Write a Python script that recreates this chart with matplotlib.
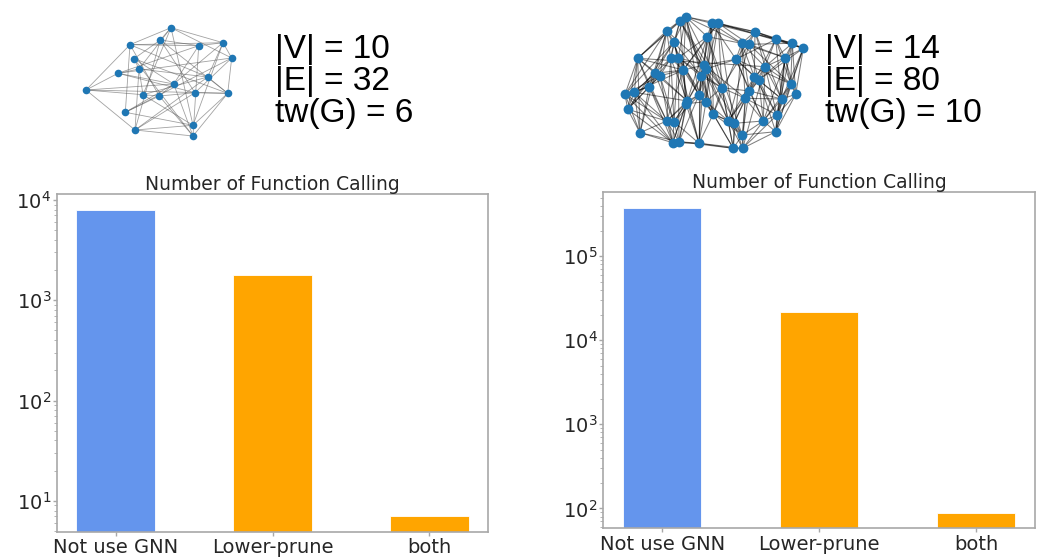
import matplotlib
matplotlib.use("Agg")
import matplotlib.pyplot as plt
import numpy as np
from matplotlib.collections import LineCollection

# ---------------- data ----------------
categories = ["Not use GNN", "Lower-prune", "both"]
left_values = [8000, 1800, 7]
right_values = [380000, 22000, 88]
bar_colors = ["cornflowerblue", "orange", "orange"]
chart_title = "Number of Function Calling"

left_info = ["|V| = 10", "|E| = 32", "tw(G) = 6"]
right_info = ["|V| = 14", "|E| = 80", "tw(G) = 10"]

# graph layouts (drawing coordinates)
left_nodes_x = [171, 130, 160.3, 198.7, 223, 231.7, 134, 139, 118, 207.7,
                173.7, 86, 143, 159.3, 195, 227.7, 125.3, 135, 193, 193]
left_nodes_y = [27.7, 44.7, 40, 45.7, 42.7, 58, 58.7, 69, 73.3, 77,
                84, 90, 94.7, 96, 92.7, 93.3, 112.3, 130, 125.3, 136]
left_edges = [(0, 1), (0, 2), (0, 4), (0, 5), (0, 12), (0, 18), (0, 7),
              (1, 11), (1, 3), (1, 4), (1, 9), (1, 13), (1, 16),
              (2, 3), (2, 6), (2, 14), (2, 17), (2, 15),
              (3, 4), (3, 8), (3, 10), (3, 19),
              (4, 5), (4, 9), (4, 18), (4, 13),
              (5, 8), (5, 15), (5, 14), (5, 16),
              (6, 7), (6, 10), (6, 15), (6, 19),
              (7, 8), (7, 9), (7, 17), (7, 12),
              (8, 11), (8, 14), (8, 10),
              (9, 12), (9, 15), (9, 17),
              (10, 11), (10, 16), (10, 19),
              (11, 12), (11, 17), (11, 15),
              (12, 13), (12, 18),
              (13, 14), (13, 19), (13, 16),
              (14, 17), (14, 15),
              (15, 18), (15, 19),
              (16, 18), (17, 18), (17, 19)]

right_nodes_x = [685.7, 680, 711.7, 718.3, 666.7, 755, 707.3, 775.7, 674, 741.7,
                 749, 792.3, 803.3, 637.7, 670.7, 678.3, 736, 785, 704.3, 706,
                 765, 683.3, 655, 660, 701, 754.3, 758.7, 721.7, 649.3, 790.7,
                 625, 634.3, 749.3, 699, 745.3, 795.7, 781.7, 687.3, 706, 686,
                 627.7, 713.3, 777, 666.7, 674, 728.3, 734, 763.3, 640, 775.7,
                 742.3, 672.7, 679, 699, 733.3, 742.7]
right_nodes_y = [16.7, 20.7, 23.3, 23.3, 30.7, 31.7, 36.7, 39.3, 41.7, 43.3,
                 44.3, 43.3, 48.3, 58.3, 58.3, 57.7, 59.3, 57.7, 65, 69,
                 66.7, 70, 73.3, 75.7, 76, 76.7, 80, 87.7, 86.7, 84,
                 94.3, 92.3, 91, 95, 98.3, 94.3, 99, 101, 101.7, 103.7,
                 109.3, 114, 115, 121, 121.7, 121, 123.3, 121, 132.7, 131.7,
                 135, 142.7, 141.7, 143.3, 148.3, 148.3]
right_adj = {
    0: [1, 2, 3, 6, 8, 15, 21, 9, 24, 33, 41, 13, 27],
    1: [4, 8, 13, 14, 18, 27, 39, 45],
    2: [3, 6, 9, 5, 16, 19, 24, 41, 11, 38],
    3: [6, 5, 10, 7, 19, 27, 38, 46, 12, 21],
    4: [8, 13, 14, 22, 23, 28, 33, 30, 18],
    5: [9, 10, 7, 11, 16, 20, 25, 12, 36],
    6: [9, 18, 15, 21, 33, 37, 27, 50],
    7: [11, 12, 17, 20, 29, 36, 16, 32],
    8: [14, 15, 22, 24, 30, 39, 40, 53],
    9: [10, 16, 20, 25, 32, 34, 17, 54],
    10: [11, 17, 26, 27, 45, 29],
    11: [12, 17, 29, 35, 42, 20, 47],
    12: [17, 35, 29, 36, 49, 26],
    13: [22, 28, 30, 31, 40, 23, 43, 20, 48, 21],
    14: [15, 21, 23, 31, 37, 44, 28, 43],
    15: [18, 21, 24, 27, 33, 38, 44, 52],
    16: [18, 19, 25, 26, 32, 41, 47, 29],
    17: [20, 26, 29, 36, 42, 35, 49],
    18: [19, 24, 27, 34, 38, 53, 21],
    19: [24, 33, 39, 45, 50, 41],
    20: [25, 26, 29, 32, 42, 47, 36, 55],
    21: [22, 23, 33, 37, 39, 43, 31],
    22: [23, 28, 31, 40, 48, 37, 44],
    23: [28, 30, 37, 44, 51, 40],
    24: [27, 33, 38, 41, 53, 39],
    25: [26, 32, 34, 36, 45, 42],
    26: [34, 36, 42, 47, 49, 32],
    27: [32, 34, 38, 41, 46, 45, 54],
    28: [31, 40, 43, 48, 30, 51],
    29: [35, 36, 42, 49, 47],
    30: [31, 40, 48, 43, 51],
    31: [40, 43, 37, 51, 48],
    32: [34, 45, 46, 47, 50, 36],
    33: [37, 38, 39, 41, 52, 53, 44],
    34: [45, 46, 47, 55, 42, 36, 50],
    35: [36, 42, 49],
    36: [42, 47, 49],
    37: [39, 43, 44, 52, 53, 51],
    38: [39, 41, 45, 54, 53],
    39: [43, 44, 51, 52, 53],
    40: [43, 48, 51],
    41: [45, 46, 53, 54, 50],
    42: [47, 49, 55],
    43: [44, 48, 51, 52],
    44: [51, 52, 53],
    45: [46, 50, 54, 55],
    46: [50, 54, 55, 47],
    47: [49, 50, 55],
    48: [51, 52],
    49: [55, 50],
    50: [54, 55],
    51: [52, 53],
    52: [53, 54],
    53: [54, 55],
    54: [55],
}
right_edges = [(i, j) for i, js in right_adj.items() for j in js]

# ---------------- figure ----------------
W, H = 1055, 558
fig = plt.figure(figsize=(W / 100, H / 100), dpi=100)

# graph drawings layer (pixel coordinates)
gax = fig.add_axes([0, 0, 1, 1])
gax.set_xlim(0, W)
gax.set_ylim(H, 0)
gax.axis("off")


def draw_graph(ax, xs, ys, edges, ecolor, ealpha, elw, nsize):
    segs = [[(xs[a], ys[a]), (xs[b], ys[b])] for a, b in edges]
    ax.add_collection(LineCollection(segs, colors=ecolor, alpha=ealpha,
                                     linewidths=elw, zorder=1))
    ax.scatter(xs, ys, s=nsize, color="#1f77b4", zorder=2, linewidths=0)


draw_graph(gax, left_nodes_x, left_nodes_y, left_edges, "#555555", 0.55, 0.6, 30)
draw_graph(gax, right_nodes_x, right_nodes_y, right_edges, "black", 0.5, 0.75, 50)

baselines = [58, 90, 122]
for txt, yb in zip(left_info, baselines):
    gax.text(275, yb, txt, fontsize=24, family="Liberation Sans",
             va="baseline", ha="left", color="black")
for txt, yb in zip(right_info, baselines):
    gax.text(825, yb, txt, fontsize=24, family="Liberation Sans",
             va="baseline", ha="left", color="black")

spine_c = "#a8a8a8"
text_c = "#262626"


def bar_chart(rect, values):
    ax = fig.add_axes(rect)
    x = np.arange(len(categories))
    ax.bar(x, values, width=0.5, color=bar_colors, edgecolor="white",
           linewidth=0.6)
    ax.set_yscale("log")
    lo, hi = np.log10(min(values)), np.log10(max(values))
    m = 0.05 * (hi - lo)
    ax.set_ylim(10 ** (lo - m), 10 ** (hi + m))
    ax.set_xlim(-0.375, len(categories) - 1 + 0.375)
    ax.set_xticks(x)
    ax.set_xticklabels(categories)
    ax.set_title(chart_title, fontsize=13.5, color=text_c, pad=1.5)
    for s in ax.spines.values():
        s.set_color(spine_c)
        s.set_linewidth(1.2)
    ax.tick_params(axis="both", which="major", labelsize=14, colors=spine_c,
                   labelcolor=text_c, length=3, width=1)
    ax.tick_params(axis="x", pad=1.5)
    ax.tick_params(axis="y", which="major", pad=1)
    ax.tick_params(axis="y", which="minor", length=2, width=0.6, colors=spine_c)
    return ax


bar_chart([56.7 / W, 1 - 531.7 / H, (488.3 - 56.7) / W, (531.7 - 194.3) / H],
          left_values)
bar_chart([603.3 / W, 1 - 528.3 / H, (1035 - 603.3) / W, (528.3 - 192.3) / H],
          right_values)

fig.savefig("out.png", dpi=100)
